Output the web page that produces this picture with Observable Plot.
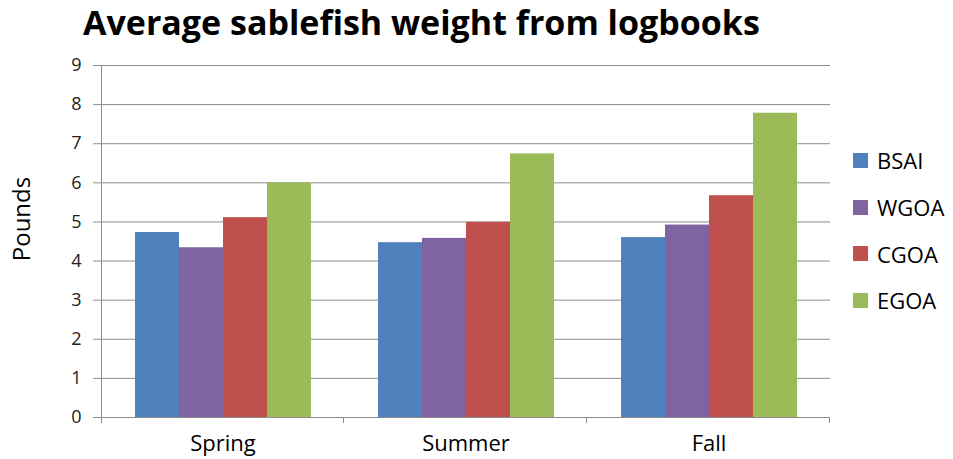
<!DOCTYPE html>
<html><head><meta charset="utf-8">
<script src="https://cdn.jsdelivr.net/npm/d3@7"></script>
<script src="https://cdn.jsdelivr.net/npm/@observablehq/plot@0.6"></script>
<style>
body{margin:0;background:#fff;font-family:"Open Sans",sans-serif;}
#wrap{position:relative;width:953px;height:459px;overflow:hidden}
#chart{position:absolute;left:0;top:0}
#title{position:absolute;left:83px;top:5px;font-size:34px;line-height:34px;font-weight:bold;color:#000;white-space:nowrap}
#ylabel{position:absolute;left:21px;top:219px;transform:translate(-50%,-50%) rotate(-90deg);font-size:24px;line-height:24px;color:#000;white-space:nowrap}
#legend{position:absolute;left:853px;top:137px}
.item{display:flex;align-items:center;height:46.7px;font-size:22px;color:#000}
.sw{width:15px;height:15px;margin-right:9px}
</style></head><body>
<div id="wrap"><div id="chart"></div><div id="title">Average sablefish weight from logbooks</div><div id="ylabel">Pounds</div><div id="legend"></div></div>
<script>
const seasons = ["Spring", "Summer", "Fall"];
const regions = ["BSAI", "WGOA", "CGOA", "EGOA"];
const colors = ["#4F81BD", "#8064A2", "#C0504D", "#9BBB59"];
const bsai = [4.73, 4.47, 4.60];
const wgoa = [4.34, 4.58, 4.92];
const cgoa = [5.11, 4.99, 5.67];
const egoa = [6.00, 6.74, 7.78];
const yTicks = [0, 1, 2, 3, 4, 5, 6, 7, 8, 9];

const series = [bsai, wgoa, cgoa, egoa];
const data = seasons.flatMap((s, i) => regions.map((r, j) => ({season: s, region: r, value: series[j][i]})));

const gray = "#8c8c8c";

const frameLines = Plot.frame({
  facet: "super",
  render: (index, scales, values, dims) => {
    const g = d3.create("svg:g").attr("stroke", gray).attr("fill", "none");
    const x0 = dims.marginLeft, x1 = dims.width - dims.marginRight;
    const y0 = dims.height - dims.marginBottom, yTop = dims.marginTop;
    g.append("line").attr("x1", x0 + 0.5).attr("x2", x0 + 0.5).attr("y1", yTop).attr("y2", y0 + 6);
    g.append("line").attr("x1", x0).attr("x2", x1).attr("y1", y0 + 0.5).attr("y2", y0 + 0.5);
    const n = seasons.length;
    for (let k = 1; k <= n; k++) {
      const x = Math.round(x0 + k * (x1 - x0) / n) - 0.5;
      g.append("line").attr("x1", x).attr("x2", x).attr("y1", y0).attr("y2", y0 + 6);
    }
    return g.node();
  }
});

const chart = Plot.plot({
  width: 953, height: 459,
  marginTop: 65, marginBottom: 42, marginLeft: 100, marginRight: 123,
  style: {fontFamily: "Open Sans", background: "transparent", color: "#000"},
  fx: {domain: seasons, padding: 0, label: null},
  x: {domain: regions, paddingInner: 0, paddingOuter: 0.76, axis: null},
  y: {domain: [0, 9], label: null},
  color: {domain: regions, range: colors},
  marks: [
    Plot.gridY(yTicks, {stroke: gray, strokeOpacity: 1}),
    Plot.barY(data, {fx: "season", x: "region", y: "value", fill: "region"}),
    Plot.axisY(yTicks, {tickSize: 8, tickPadding: 12, fontSize: 18, stroke: gray, fill: "#222", label: null}),
    Plot.axisFx({anchor: "bottom", tickSize: 0, tickPadding: 18, fontSize: 22, fill: "#000", label: null}),
    frameLines
  ]
});
document.getElementById("chart").append(chart);

const legend = document.getElementById("legend");
regions.forEach((r, i) => {
  const it = document.createElement("div");
  it.className = "item";
  it.innerHTML = `<div class="sw" style="background:${colors[i]}"></div><span>${r}</span>`;
  legend.append(it);
});
</script>
</body></html>
